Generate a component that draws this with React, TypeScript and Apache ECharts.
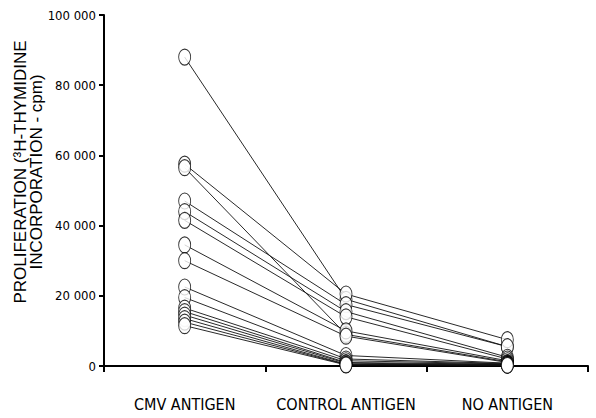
import React, { useEffect, useRef } from "react";
import * as echarts from "echarts";

const categories = ["CMV ANTIGEN", "CONTROL ANTIGEN", "NO ANTIGEN"];
const yTicks = [0, 20000, 40000, 60000, 80000, 100000];
const yTitle = "PROLIFERATION (³H-THYMIDINE\nINCORPORATION - cpm)";

const cmvValues = [88000, 57500, 56500, 47000, 44000, 41500, 34500, 30000, 22500, 19500, 16500, 15500, 14500, 13500, 12500, 11500];
const controlValues = [19000, 20500, 9000, 17500, 15500, 14000, 10000, 8500, 3000, 2000, 1500, 1000, 800, 500, 400, 300];
const noAntigenValues = [5500, 7500, 1200, 5500, 2500, 2000, 1500, 1000, 800, 700, 600, 500, 400, 300, 300, 200];

const ellipse = "path://M0,8 A6,8 0 1,1 12,8 A6,8 0 1,1 0,8 Z";

function fmt(v: number): string {
  if (v === 0) return "0";
  const s = String(v);
  return s.slice(0, s.length - 3) + " " + s.slice(s.length - 3);
}

const narrow = "DejaVu Sans Condensed, Liberation Sans Narrow, Liberation Sans, Arial";

export default function App() {
  const ref = useRef<HTMLDivElement>(null);
  useEffect(() => {
    if (!ref.current) return;
    const chart = echarts.init(ref.current, undefined, { renderer: "svg" });
    const lineSeries = cmvValues.map((v, i) => ({
      type: "line" as const,
      data: [v, controlValues[i], noAntigenValues[i]],
      showSymbol: false,
      lineStyle: { color: "#111", width: 0.9 },
      z: 2,
      silent: true,
    }));
    const scatterData: [number, number][] = [];
    cmvValues.forEach((v, i) => {
      scatterData.push([0, v]);
      scatterData.push([1, controlValues[i]]);
      scatterData.push([2, noAntigenValues[i]]);
    });
    chart.setOption({
      animation: false,
      grid: { left: 104, right: 8, top: 15, bottom: 52 },
      graphic: [
        {
          type: "text",
          x: 28,
          y: 172,
          rotation: Math.PI / 2,
          style: {
            text: yTitle,
            align: "center",
            verticalAlign: "middle",
            fill: "#000",
            fontSize: 17,
            lineHeight: 16,
            fontFamily: "Liberation Sans, Arial",
          },
        },
      ],
      xAxis: {
        type: "category",
        data: categories,
        boundaryGap: true,
        axisLine: { lineStyle: { color: "#000", width: 2 } },
        axisTick: { show: true, length: 6, lineStyle: { color: "#000", width: 2 } },
        axisLabel: {
          color: "#000",
          fontFamily: narrow,
          fontSize: 16,
          margin: 30,
          interval: 0,
        },
      },
      yAxis: {
        type: "value",
        min: yTicks[0],
        max: yTicks[yTicks.length - 1],
        interval: 20000,
        splitLine: { show: false },
        axisLine: { show: true, lineStyle: { color: "#000", width: 2 } },
        axisTick: { show: true, length: 5, lineStyle: { color: "#000", width: 2 } },
        axisLabel: {
          color: "#000",
          fontFamily: narrow,
          fontSize: 13,
          margin: 8,
          formatter: (v: number) => fmt(v),
        },
      },
      series: [
        ...lineSeries,
        {
          type: "scatter",
          data: scatterData,
          symbol: ellipse,
          symbolSize: [12, 16],
          itemStyle: { color: "#fff", borderColor: "#000", borderWidth: 1 },
          z: 5,
          silent: true,
        },
      ],
    });
    return () => chart.dispose();
  }, []);
  return (
    <div
      ref={ref}
      style={{ position: "fixed", left: 0, top: 0, width: 596, height: 418, background: "#fff" }}
    />
  );
}
